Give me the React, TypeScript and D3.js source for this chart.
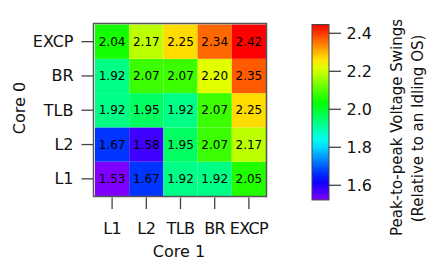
import React from "react";
import * as d3 from "d3";

// Core 0 on the y axis (bottom to top), Core 1 on the x axis (left to right)
const CATEGORIES = ["L1", "L2", "TLB", "BR", "EXCP"];
const ROW_L1 = [1.53, 1.67, 1.92, 1.92, 2.05];
const ROW_L2 = [1.67, 1.58, 1.95, 2.07, 2.17];
const ROW_TLB = [1.92, 1.95, 1.92, 2.07, 2.25];
const ROW_BR = [1.92, 2.07, 2.07, 2.2, 2.35];
const ROW_EXCP = [2.04, 2.17, 2.25, 2.34, 2.42];
const ROWS = [ROW_L1, ROW_L2, ROW_TLB, ROW_BR, ROW_EXCP];
const CBAR_TICKS = [1.6, 1.8, 2.0, 2.2, 2.4];

const FONT = "DejaVu Sans";

export default function App() {
    const W = 428, H = 261;
    const all = ROWS.flat();
    const vmin = d3.min(all) ?? 1.53;
    const vmax = d3.max(all) ?? 2.42;

    const hue = d3.scaleLinear().domain([vmin, vmax]).range([270, 0]);
    const color = (v: number) => d3.hsl(hue(v), 1, 0.5).formatHex();

    const x = d3.scaleBand<string>().domain(CATEGORIES).range([95, 266]);
    const y = d3.scaleBand<string>().domain(CATEGORIES).range([196, 24.5]);

    const cbY = d3.scaleLinear().domain([1.6, 2.4]).range([185.3, 33.3]);
    const cbX0 = 312, cbX1 = 329;
    const cbTop = cbY(vmax + 0.026), cbBot = cbY(vmin - 0.007);

    const stops = d3.range(0, 1.0001, 0.05);

    const cells = ROWS.flatMap((row, ri) =>
        row.map((v, ci) => ({ v, row: CATEGORIES[ri], col: CATEGORIES[ci] }))
    );

    return (
        <svg width={W} height={H} style={{ position: "absolute", left: 0, top: 0 }} fontFamily={FONT}>
            <defs>
                <linearGradient id="cbar" x1="0" y1="1" x2="0" y2="0">
                    {stops.map((t) => (
                        <stop key={t} offset={t} stopColor={color(vmin + t * (vmax - vmin))} />
                    ))}
                </linearGradient>
            </defs>
            <rect width={W} height={H} fill="#fff" />

            {/* heatmap cells */}
            <g>
                {cells.map((c, i) => (
                    <g key={i}>
                        <rect x={x(c.col)} y={y(c.row)} width={x.bandwidth()} height={y.bandwidth()} fill={color(c.v)} />
                        <text x={(x(c.col) ?? 0) + x.bandwidth() / 2} y={(y(c.row) ?? 0) + y.bandwidth() / 2}
                              textAnchor="middle" dominantBaseline="central" fontSize={12} fill="#000">
                            {c.v.toFixed(2)}
                        </text>
                    </g>
                ))}
            </g>
            <rect x={93.5} y={23.5} width={173} height={173} fill="none" stroke="#555" strokeWidth={1.5} />

            {/* y axis */}
            {CATEGORIES.map((c) => {
                const cy = (y(c) ?? 0) + y.bandwidth() / 2;
                return (
                    <g key={"y" + c}>
                        <line x1={81.5} x2={93} y1={cy} y2={cy} stroke="#444" strokeWidth={1.3} />
                        <text x={73.5} y={cy} textAnchor="end" dominantBaseline="central" fontSize={16} fill="#111">{c}</text>
                    </g>
                );
            })}
            <text transform="translate(25,108) rotate(-90)" textAnchor="middle" fontSize={16} fill="#111">Core 0</text>

            {/* x axis */}
            {CATEGORIES.map((c) => {
                const cx = (x(c) ?? 0) + x.bandwidth() / 2;
                return (
                    <g key={"x" + c}>
                        <line x1={cx} x2={cx} y1={197.5} y2={209} stroke="#444" strokeWidth={1.3} />
                        <text x={cx} y={234} textAnchor="middle" fontSize={16} letterSpacing={-0.6} fill="#111">{c}</text>
                    </g>
                );
            })}
            <text x={179} y={257} textAnchor="middle" fontSize={16} fill="#111">Core 1</text>

            {/* colour bar */}
            <rect x={cbX0} y={cbTop} width={cbX1 - cbX0} height={cbBot - cbTop} fill="url(#cbar)" stroke="#444" strokeWidth={1} />
            {CBAR_TICKS.map((t) => (
                <g key={t}>
                    <line x1={cbX1} x2={341} y1={cbY(t)} y2={cbY(t)} stroke="#444" strokeWidth={1.3} />
                    <text x={346.5} y={cbY(t)} dominantBaseline="central" fontSize={16} fill="#111">{t.toFixed(1)}</text>
                </g>
            ))}
            <text transform="translate(401.5,127.5) rotate(-90)" textAnchor="middle" fontSize={15} fill="#111">
                Peak-to-peak Voltage Swings
            </text>
            <text transform="translate(422.5,128.5) rotate(-90)" textAnchor="middle" fontSize={15} fill="#111">
                (Relative to an Idling OS)
            </text>
        </svg>
    );
}
